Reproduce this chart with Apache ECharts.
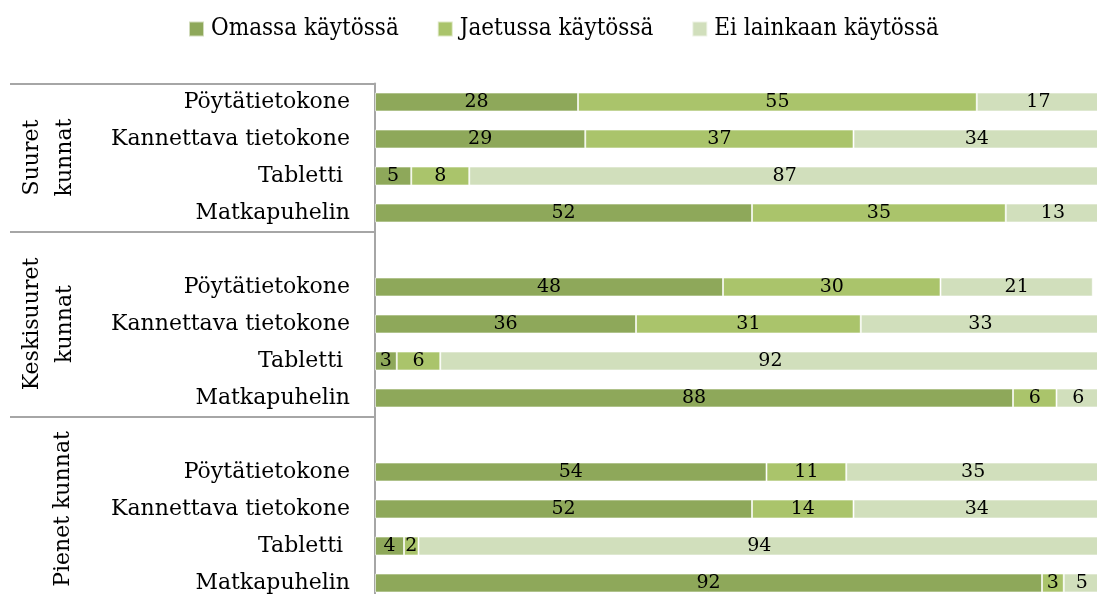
<!DOCTYPE html>
<html>
<head>
<meta charset="utf-8">
<title>Laitteet kunnissa</title>
<script src="https://cdn.jsdelivr.net/npm/echarts@6.0.0/dist/echarts.min.js"></script>
<style>
    html, body { margin: 0; padding: 0; background: #fff; }
    #chart { width: 1097px; height: 594px; }
</style>
</head>
<body>
<div id="chart"></div>
<script>
// rivit ylhäältä alas, tyhjä rivi ryhmien välissä
var rowNames = [
    'Pöytätietokone', 'Kannettava tietokone', 'Tabletti ', 'Matkapuhelin',
    '', 'Pöytätietokone', 'Kannettava tietokone', 'Tabletti ', 'Matkapuhelin',
    '', 'Pöytätietokone', 'Kannettava tietokone', 'Tabletti ', 'Matkapuhelin'
];
var seriesNames = ['Omassa käytössä', 'Jaetussa käytössä', 'Ei lainkaan käytössä'];
var omassa = [28, 29, 5, 52, null, 48, 36, 3, 88, null, 54, 52, 4, 92];
var jaetussa = [55, 37, 8, 35, null, 30, 31, 6, 6, null, 11, 14, 2, 3];
var eiLainkaan = [17, 34, 87, 13, null, 21, 33, 92, 6, null, 35, 34, 94, 5];

// ryhmät: nimi, ensimmäinen ja viimeinen rivi
var groupNames = ['Suuret\nkunnat', 'Keskisuuret\nkunnat', 'Pienet kunnat'];
var groupFirstRow = [0, 4, 9];
var groupLastRow = [3, 8, 13];

var colors = ['#8EA85A', '#AAC46B', '#D1DFBC'];
var serif = '"DejaVu Serif", "Liberation Serif", serif';

var myChart = echarts.init(document.getElementById('chart'));

var makeSeries = function (name, values) {
    return {
        name: name,
        type: 'bar',
        stack: 'kaikki',
        barWidth: 19,
        data: values,
        itemStyle: {
            borderColor: 'rgba(255,255,255,0.6)',
            borderWidth: 1
        },
        label: {
            show: true,
            position: 'inside',
            color: '#000',
            fontFamily: serif,
            fontSize: 19
        }
    };
};

var option = {
    backgroundColor: '#fff',
    animation: false,
    color: colors,
    legend: {
        left: 183,
        top: 12,
        itemWidth: 15,
        itemHeight: 15,
        itemGap: 38,
        icon: 'rect',
        data: seriesNames,
        textStyle: {
            fontFamily: '"DejaVu Serif Condensed", "DejaVu Serif", serif',
            fontSize: 24,
            color: '#000',
            padding: [0, 0, 0, 2]
        }
    },
    grid: {
        left: 375,
        right: -3,
        top: 83.5,
        bottom: -7.5,
        outerBoundsMode: 'none'
    },
    xAxis: {
        type: 'value',
        min: 0,
        max: 100,
        show: false
    },
    yAxis: {
        type: 'category',
        inverse: true,
        data: rowNames,
        axisLine: { show: true, lineStyle: { color: '#A6A6A6', width: 2 } },
        // ryhmien väliviivat piirretään akselin tikeillä
        axisTick: {
            show: true,
            length: 365,
            interval: function (index) {
                return groupFirstRow.indexOf(index) >= 0;
            },
            lineStyle: { color: '#A6A6A6', width: 2 }
        },
        axisLabel: {
            interval: 0,
            margin: 25,
            color: '#000',
            fontFamily: serif,
            fontSize: 22
        },
        splitLine: { show: false }
    },
    series: [
        makeSeries(seriesNames[0], omassa),
        makeSeries(seriesNames[1], jaetussa),
        makeSeries(seriesNames[2], eiLainkaan)
    ]
};

myChart.setOption(option);

// pystysuorat ryhmien nimet, keskitettynä ryhmän rivien kohdalle
var groupTexts = groupNames.map(function (name, i) {
    var y1 = myChart.convertToPixel({ yAxisIndex: 0 }, groupFirstRow[i]);
    var y2 = myChart.convertToPixel({ yAxisIndex: 0 }, groupLastRow[i]);
    var twoLines = name.indexOf('\n') >= 0;
    return {
        type: 'text',
        x: twoLines ? 49 : 63,
        y: (y1 + y2) / 2,
        rotation: Math.PI / 2,
        style: {
            text: name,
            fill: '#000',
            font: '22px ' + serif,
            align: 'center',
            verticalAlign: 'middle',
            lineHeight: 33
        }
    };
});
myChart.setOption({ graphic: groupTexts });
</script>
</body>
</html>
